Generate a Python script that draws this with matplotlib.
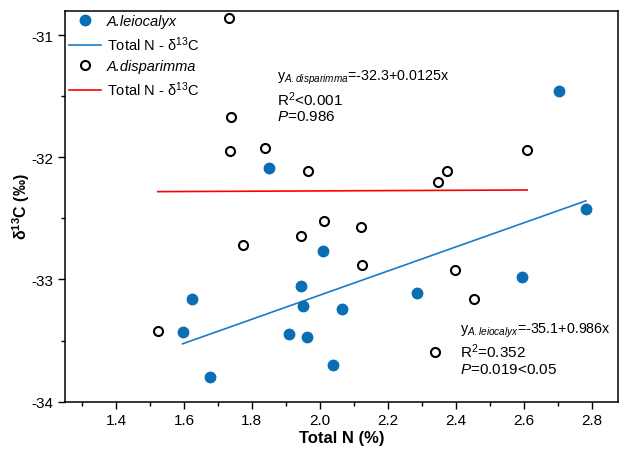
import numpy as np
import matplotlib
matplotlib.use("Agg")
import matplotlib.pyplot as plt
from matplotlib.ticker import MultipleLocator

plt.rcParams['font.family'] = ['Liberation Sans', 'DejaVu Sans']
plt.rcParams['mathtext.fontset'] = 'custom'
plt.rcParams['mathtext.rm'] = 'Liberation Sans'
plt.rcParams['mathtext.it'] = 'Liberation Sans:italic'
plt.rcParams['mathtext.bf'] = 'Liberation Sans:bold'

# A.leiocalyx (filled)
leio_n = [1.850, 2.009, 1.945, 1.625, 1.596, 1.677, 1.951, 1.908, 1.963,
          2.066, 2.038, 2.783, 2.594, 2.287, 2.704]
leio_c = [-32.09, -32.77, -33.05, -33.16, -33.43, -33.80, -33.22, -33.45, -33.47,
          -33.24, -33.70, -32.42, -32.98, -33.11, -31.46]

# A.disparimma (open)
disp_n = [1.733, 1.738, 1.736, 1.839, 1.964, 2.013, 1.944, 1.774, 1.523,
          2.610, 2.373, 2.347, 2.120, 2.123, 2.398, 2.454, 2.340]
disp_c = [-30.86, -31.67, -31.95, -31.92, -32.11, -32.52, -32.64, -32.72, -33.42,
          -31.94, -32.11, -32.20, -32.57, -32.88, -32.92, -33.16, -33.59]

# regression coefficients from the figure text
leio_fit = (-35.1, 0.986)
disp_fit = (-32.3, 0.0125)

disp_text = ['y$_{\\mathit{A{.}disparimma}}$=-32.3+0.0125x', 'R$^2$<0.001', '$\\mathit{P}$=0.986']
leio_text = ['y$_{\\mathit{A{.}leiocalyx}}$=-35.1+0.986x', 'R$^2$=0.352', '$\\mathit{P}$=0.019<0.05']

blue = '#0a6eb4'
line_blue = '#1b7cc4'

fig = plt.figure(figsize=(6.21, 4.6), dpi=100)
ax = fig.add_axes([0.1047, 0.1246, 0.8903, 0.85])

ax.plot(leio_n, leio_c, 'o', color=blue, ms=7.5, mec=blue, label='A.leiocalyx', zorder=3)
xl = np.array([min(leio_n), max(leio_n)])
ax.plot(xl, leio_fit[0] + leio_fit[1] * xl, color=line_blue, lw=1.2, label='Total N - δ$^{13}$C')
ax.plot(disp_n, disp_c, 'o', mfc='white', mec='black', mew=1.5, ms=6.5,
        label='A.disparimma', zorder=3)
xd = np.array([min(disp_n), max(disp_n)])
ax.plot(xd, disp_fit[0] + disp_fit[1] * xd, color='red', lw=1.2, label='Total N - δ$^{13}$C')

ax.set_xlim(1.25, 2.877)
ax.set_ylim(-34, -30.8)
ax.xaxis.set_major_locator(MultipleLocator(0.2))
ax.xaxis.set_minor_locator(MultipleLocator(0.1))
ax.yaxis.set_major_locator(MultipleLocator(1))
ax.yaxis.set_minor_locator(MultipleLocator(0.5))
ax.tick_params(which='major', direction='out', length=5, width=1, labelsize=11)
ax.tick_params(which='minor', direction='out', length=3, width=1)
ax.xaxis.set_major_formatter(plt.FuncFormatter(lambda v, p: f'{v:.1f}'))
ax.yaxis.set_major_formatter(plt.FuncFormatter(lambda v, p: f'{v:.0f}'))
for s in ax.spines.values():
    s.set_linewidth(1.1)

ax.set_xlabel('Total N (%)', fontsize=12, fontweight='bold', labelpad=2)
ax.set_ylabel('δ$^{\\mathbf{13}}$C (‰)', fontsize=11.5, fontweight='bold')
ax.yaxis.set_label_coords(-0.06, 0.5)

leg = ax.legend(loc='upper left', frameon=False, fontsize=10.5, handlelength=2.25,
                handletextpad=0.35, borderaxespad=0.0, labelspacing=0.42, borderpad=0.25)
leg.get_texts()[0].set_fontstyle('italic')
leg.get_texts()[2].set_fontstyle('italic')

sizes = [10.3, 11, 11]
for yy, s, fs in zip([-31.344, -31.524, -31.663], disp_text, sizes):
    ax.text(1.874, yy, s, fontsize=fs, va='center', ha='left')
for yy, s, fs in zip([-33.414, -33.586, -33.733], leio_text, sizes):
    ax.text(2.412, yy, s, fontsize=fs, va='center', ha='left')

fig.savefig('out.png', dpi=100)
